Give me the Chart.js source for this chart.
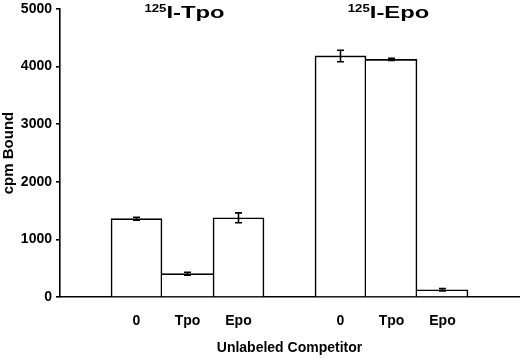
<!DOCTYPE html>
<html>
<head>
<meta charset="utf-8">
<script src="https://cdn.jsdelivr.net/npm/chart.js@4/dist/chart.umd.min.js"></script>
<style>
  html, body { margin: 0; padding: 0; background: #fff; }
  #wrap { width: 520px; height: 358px; }
</style>
</head>
<body>
<div id="wrap"><canvas id="chart"></canvas></div>
<script>
// slots along the x axis, empty slots keep the gaps
const categories = ['', '0', 'Tpo', 'Epo', '', '0', 'Tpo', 'Epo', ''];
const boundValues = [null, 1360, 405, 1375, null, 4185, 4125, 125, null];
const boundErrors = [null, 25, 25, 85, null, 100, 20, 20, null];
const groupTitles = ['I-Tpo', 'I-Epo'];
const groupSuperscript = '125';
const groupCenters = [2, 6];
const yTicks = [0, 1000, 2000, 3000, 4000, 5000];

const FONT = "'Liberation Sans', Arial, sans-serif";
const LINE = 1.6;

const errorBarsPlugin = {
    id: 'errorBars',
    afterDatasetsDraw(chart) {
        const ctx = chart.ctx;
        const y = chart.scales.y;
        const meta = chart.getDatasetMeta(0);
        ctx.save();
        ctx.strokeStyle = '#000';
        ctx.lineWidth = LINE;
        boundValues.forEach((v, i) => {
            if (v === null) return;
            const bar = meta.data[i];
            const top = y.getPixelForValue(v + boundErrors[i]);
            const bottom = y.getPixelForValue(v - boundErrors[i]);
            ctx.beginPath();
            ctx.moveTo(bar.x, top);
            ctx.lineTo(bar.x, bottom);
            ctx.moveTo(bar.x - 3.5, top);
            ctx.lineTo(bar.x + 3.5, top);
            ctx.moveTo(bar.x - 3.5, bottom);
            ctx.lineTo(bar.x + 3.5, bottom);
            ctx.stroke();
        });
        ctx.restore();
    }
};

const groupTitlePlugin = {
    id: 'groupTitles',
    afterDraw(chart) {
        const ctx = chart.ctx;
        const x = chart.scales.x;
        ctx.save();
        ctx.fillStyle = '#000';
        ctx.textBaseline = 'alphabetic';
        ctx.textAlign = 'left';
        groupTitles.forEach((t, i) => {
            const cx = x.getPixelForValue(groupCenters[i]) - 3;
            ctx.font = 'bold 11px ' + FONT;
            const supW = ctx.measureText(groupSuperscript).width * 1.2;
            ctx.font = 'bold 17px ' + FONT;
            const mainW = ctx.measureText(t).width * 1.4;
            const left = cx - (supW + mainW) / 2;

            ctx.save();
            ctx.translate(left, 11.5);
            ctx.scale(1.2, 1);
            ctx.font = 'bold 11px ' + FONT;
            ctx.fillText(groupSuperscript, 0, 0);
            ctx.restore();

            ctx.save();
            ctx.translate(left + supW, 17.5);
            ctx.scale(1.4, 1);
            ctx.font = 'bold 17px ' + FONT;
            ctx.fillText(t, 0, 0);
            ctx.restore();
        });
        ctx.restore();
    }
};

// each shared edge is drawn once, by the taller of the two bars
function barBorder(c) {
    const i = c.dataIndex;
    const v = boundValues[i];
    const prev = boundValues[i - 1];
    const next = boundValues[i + 1];
    return {
        top: LINE,
        bottom: 0,
        left: (prev == null || prev <= v) ? LINE : 0,
        right: (next == null || next < v) ? LINE : 0
    };
}

new Chart(document.getElementById('chart').getContext('2d'), {
    type: 'bar',
    data: {
        labels: categories,
        datasets: [{
            label: 'cpm Bound',
            data: boundValues,
            backgroundColor: '#fff',
            borderColor: '#000',
            borderWidth: barBorder,
            borderSkipped: false,
            barPercentage: 1,
            categoryPercentage: 1
        }]
    },
    options: {
        responsive: true,
        maintainAspectRatio: false,
        animation: false,
        devicePixelRatio: 1,
        layout: { padding: { top: 9, right: 1, bottom: 0, left: 0 } },
        plugins: {
            legend: { display: false },
            tooltip: { enabled: false }
        },
        scales: {
            x: {
                type: 'category',
                offset: true,
                grid: { display: false, drawTicks: false },
                border: { display: true, color: '#000', width: LINE },
                ticks: {
                    autoSkip: false,
                    maxRotation: 0,
                    padding: 16,
                    color: '#000',
                    font: { family: FONT, size: 14, weight: 'bold' }
                },
                title: {
                    display: true,
                    text: 'Unlabeled Competitor',
                    color: '#000',
                    font: { family: FONT, size: 14, weight: 'bold' },
                    padding: { top: 0, bottom: 1 }
                },
                afterFit: s => { s.height = 61; }
            },
            y: {
                min: 0,
                max: 5000,
                afterBuildTicks: s => { s.ticks = yTicks.map(v => ({ value: v })); },
                grid: { drawOnChartArea: false, drawTicks: true, tickLength: 4, color: '#000', lineWidth: LINE },
                border: { display: true, color: '#000', width: LINE },
                ticks: {
                    padding: 4,
                    color: '#000',
                    font: { family: FONT, size: 14, weight: 'bold' },
                    callback: v => String(v)
                },
                title: {
                    display: true,
                    text: 'cpm Bound',
                    color: '#000',
                    font: { family: FONT, size: 15, weight: 'bold' },
                    padding: { top: 0, bottom: 0 }
                },
                afterFit: s => {
                    s.width = 60;
                    s.paddingTop = 0;
                    s.paddingBottom = 0;
                }
            }
        }
    },
    plugins: [errorBarsPlugin, groupTitlePlugin]
});
</script>
</body>
</html>
